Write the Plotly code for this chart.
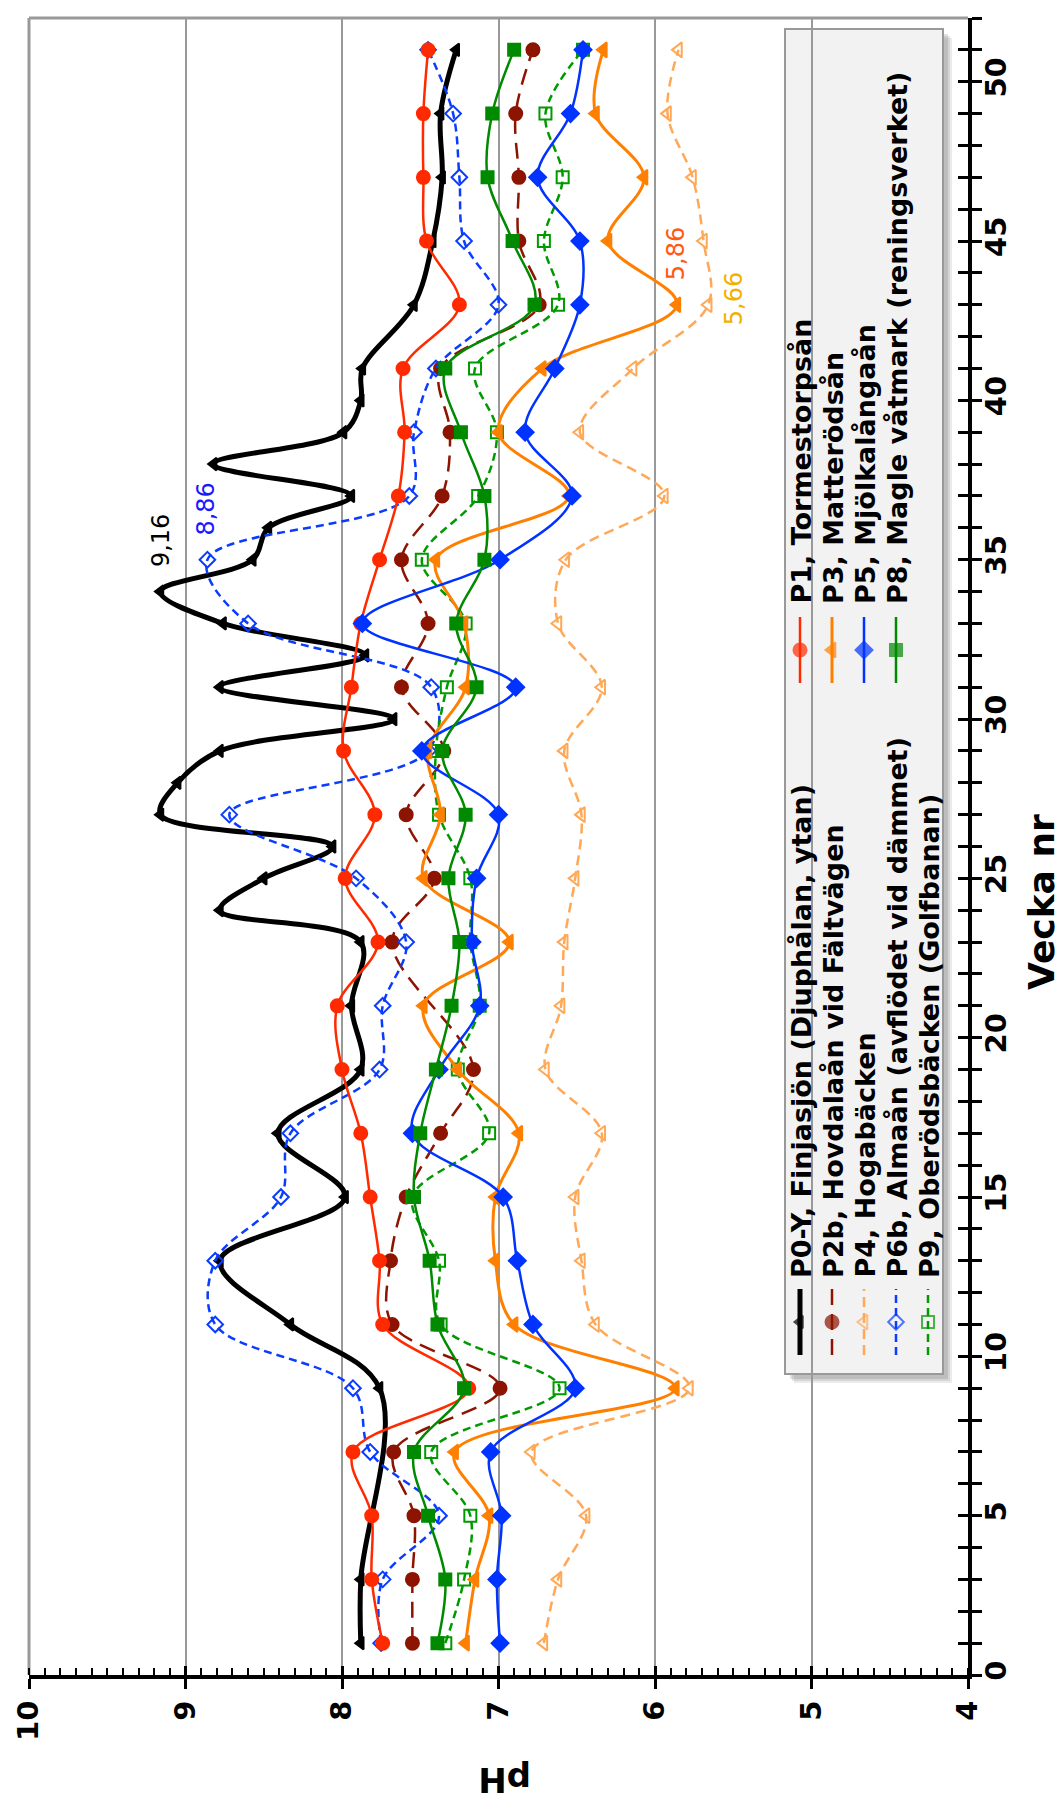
import plotly.graph_objects as go

# ---------------- data ----------------
weeks = [1, 3, 5, 7, 9, 11, 13, 15, 17, 19, 21, 23, 25, 27, 29, 31, 33, 35, 37, 39, 41, 43, 45, 47, 49, 51]

p0y_weeks = [1, 3, 9, 11, 13, 15, 17, 19, 21, 23, 24, 25, 26, 27, 28, 29, 30, 31, 32, 33, 34, 35, 36, 37, 38,
             39, 40, 41, 43, 45, 47, 49, 51]
p0y_ph = [7.88, 7.88, 7.76, 8.33, 8.78, 7.98, 8.41, 7.88, 7.94, 7.88, 8.78, 8.50, 8.06, 9.16, 9.05, 8.78, 7.67,
          8.78, 7.85, 8.76, 9.16, 8.57, 8.47, 7.94, 8.82, 7.99, 7.88, 7.87, 7.54, 7.42, 7.36, 7.37, 7.27]

p1_ph = [7.74, 7.81, 7.81, 7.93, 7.19, 7.74, 7.76, 7.82, 7.88, 8.00, 8.03, 7.77, 7.98, 7.79, 7.99, 7.94, 7.88,
         7.76, 7.64, 7.60, 7.61, 7.25, 7.46, 7.48, 7.48, 7.45]

p2b_weeks = [1, 3, 5, 7, 9, 11, 13, 15, 17, 19, 23, 25, 27, 29, 31, 33, 35, 37, 39, 41, 43, 45, 47, 49, 51]
p2b_ph = [7.55, 7.55, 7.54, 7.67, 6.99, 7.68, 7.69, 7.59, 7.37, 7.16, 7.68, 7.41, 7.59, 7.35, 7.62, 7.45, 7.62,
          7.36, 7.31, 7.37, 6.74, 6.87, 6.87, 6.89, 6.78]

p3_ph = [7.21, 7.15, 7.06, 7.28, 5.87, 6.90, 7.02, 7.02, 6.87, 7.26, 7.48, 6.93, 7.48, 7.37, 7.45, 7.21, 7.22,
         7.40, 6.55, 7.00, 6.72, 5.86, 6.30, 6.07, 6.38, 6.33]

p4_ph = [6.71, 6.62, 6.44, 6.79, 5.78, 6.38, 6.47, 6.51, 6.34, 6.70, 6.60, 6.58, 6.51, 6.47, 6.58, 6.34, 6.62,
         6.57, 5.94, 6.48, 6.14, 5.66, 5.69, 5.76, 5.92, 5.85]

p5_ph = [6.99, 7.01, 6.98, 7.05, 6.51, 6.78, 6.88, 6.97, 7.55, 7.38, 7.12, 7.17, 7.14, 7.00, 7.49, 6.89, 7.87,
         6.99, 6.53, 6.83, 6.64, 6.48, 6.48, 6.75, 6.54, 6.46]

p6b_ph = [7.75, 7.74, 7.38, 7.82, 7.93, 8.81, 8.81, 8.39, 8.33, 7.76, 7.74, 7.59, 7.91, 8.72, 7.45, 7.43, 8.60,
          8.86, 7.57, 7.54, 7.40, 7.00, 7.22, 7.25, 7.29, 7.45]

p8_ph = [7.39, 7.34, 7.45, 7.54, 7.22, 7.39, 7.44, 7.54, 7.50, 7.40, 7.30, 7.25, 7.32, 7.21, 7.36, 7.14, 7.27,
         7.09, 7.09, 7.24, 7.34, 6.77, 6.91, 7.07, 7.04, 6.90]

p9_ph = [7.34, 7.22, 7.18, 7.43, 6.61, 7.37, 7.38, 7.55, 7.06, 7.26, 7.12, 7.18, 7.18, 7.38, 7.40, 7.33, 7.21,
         7.49, 7.13, 7.01, 7.15, 6.62, 6.71, 6.59, 6.70, 6.46]

ph_ticks = [10, 9, 8, 7, 6, 5, 4]
week_ticks = list(range(0, 53))

labels = ["P0-Y, Finjasjön (Djuphålan, ytan)", "P2b, Hovdalaån vid Fältvägen", "P4, Hogabäcken",
          "P6b, Almaån (avflödet vid dämmet)", "P9, Oberödsbäcken (Golfbanan)",
          "P1, Tormestorpsån", "P3, Matterödsån", "P5, Mjölkalångaån", "P8, Magle våtmark (reningsverket)"]

peak_labels = [("9,16", 9.16, 35.6, "black"), ("8,86", 8.87, 36.6, "#1a1aff"),
               ("5,86", 5.87, 44.6, "#ff5a14"), ("5,66", 5.49, 43.2, "#f2b100")]

# ---------------- styles ----------------
FONT = "DejaVu Sans"
series = [
    # name, weeks, values, color, width, dash, symbol, msize
    (labels[0], p0y_weeks, p0y_ph, "black", 5, "solid", "triangle-left", 11),
    (labels[1], p2b_weeks, p2b_ph, "#8c1400", 2.5, "16px,9px", "circle", 13),
    (labels[2], weeks, p4_ph, "#ffa857", 2.5, "10px,6px", "triangle-left-open", 13),
    (labels[3], weeks, p6b_ph, "#0a3cff", 2.5, "8px,5px", "diamond-open", 12),
    (labels[4], weeks, p9_ph, "#009a00", 2.5, "8px,5px", "square-open", 12),
    (labels[5], weeks, p1_ph, "#ff2a00", 2.5, "solid", "circle", 13),
    (labels[6], weeks, p3_ph, "#ff8000", 3, "solid", "triangle-left", 13),
    (labels[7], weeks, p5_ph, "#0033ff", 2.5, "solid", "diamond", 13),
    (labels[8], weeks, p8_ph, "#008a00", 2.5, "solid", "square", 12),
]

W, H = 1063, 1814
L, R, T, B = 21, 103, 10, 147
PX0, PX1, PY0, PY1 = L, W - R, T, H - B


def paper(px, py):
    return (px - PX0) / (PX1 - PX0), (PY1 - py) / (PY1 - PY0)


fig = go.Figure()

for name, wk, vals, col, lw, dash, sym, ms in series:
    fig.add_trace(go.Scatter(
        x=vals, y=wk, mode="lines+markers", name=name, showlegend=False,
        line=dict(color=col, width=lw, dash=dash, shape="spline", smoothing=1.0),
        marker=dict(symbol=sym, size=ms, color=col, line=dict(color=col, width=2)),
    ))

# dummy traces so overlay axes render
fig.add_trace(go.Scatter(x=[None], y=[None], xaxis="x2", yaxis="y", showlegend=False, hoverinfo="skip"))
fig.add_trace(go.Scatter(x=[None], y=[None], xaxis="x", yaxis="y2", showlegend=False, hoverinfo="skip"))

# ---------------- manual rotated legend ----------------
col_x = [792, 824, 856, 888, 920]
groups = [(range(0, 5), 1314, 1272), (range(5, 9), 642, 598)]
for idx, ymark, ytext in groups:
    for j, si in enumerate(idx):
        name, wk, vals, col, lw, dash, sym, ms = series[si]
        cx = col_x[j]
        fig.add_trace(go.Scatter(
            x=[cx, cx, cx], y=[ymark + 33, ymark, ymark - 33], xaxis="x3", yaxis="y3",
            mode="lines+markers", showlegend=False, hoverinfo="skip",
            line=dict(color=col, width=lw, dash=dash),
            marker=dict(symbol=sym, size=[0, ms, 0], color=col, line=dict(color=col, width=2)),
        ))
        ax, ay = paper(cx + 1, ytext)
        fig.add_annotation(x=ax, y=ay, xref="paper", yref="paper", text=name, showarrow=False,
                           textangle=-90, xanchor="center", yanchor="bottom",
                           font=dict(family=FONT, size=27, color="black", weight="bold"))

# legend box + soft shadow
for off, alpha in [(9, 0.12), (7, 0.15), (5, 0.18)]:
    sx0, sy0 = paper(777 + off, 21 + off)
    sx1, sy1 = paper(935 + off, 1366 + off)
    fig.add_shape(type="rect", xref="paper", yref="paper", x0=sx0, y0=sy0, x1=sx1, y1=sy1,
                  fillcolor=f"rgba(90,90,90,{alpha})", line=dict(width=0), layer="between")
bx0, by0 = paper(777, 21)
bx1, by1 = paper(935, 1366)
fig.add_shape(type="rect", xref="paper", yref="paper", x0=bx0, y0=by0, x1=bx1, y1=by1,
              fillcolor="#f2f2f2", line=dict(color="#999999", width=2), layer="between")

# plot border (top and left, gray)
fig.add_shape(type="line", xref="paper", yref="paper", x0=0, x1=1, y0=1, y1=1,
              line=dict(color="#999999", width=3), layer="between")
fig.add_shape(type="line", xref="paper", yref="paper", x0=0, x1=0, y0=0, y1=1,
              line=dict(color="#999999", width=3), layer="between")

# peak value labels
for txt, xv, yv, col in peak_labels:
    fig.add_annotation(x=xv, y=yv, text=txt, showarrow=False, textangle=-90,
                       xanchor="center", yanchor="middle",
                       font=dict(family=FONT, size=24, color=col))

# axis titles
vx, vy = paper(1033, 894)
fig.add_annotation(x=vx, y=vy, xref="paper", yref="paper", text="Vecka nr", showarrow=False,
                   textangle=-90, xanchor="center", yanchor="middle",
                   font=dict(family=FONT, size=36, color="black", weight="bold"))
hx, hy = paper(497, 1772)
fig.add_annotation(x=hx, y=hy, xref="paper", yref="paper", text="pH", showarrow=False,
                   textangle=180, xanchor="center", yanchor="middle",
                   font=dict(family=FONT, size=34, color="black", weight="bold"))

tickfont = dict(family=FONT, size=29, color="black", weight="bold")

fig.update_layout(
    width=W, height=H, margin=dict(l=L, r=R, t=T, b=B, autoexpand=False),
    paper_bgcolor="white", plot_bgcolor="white", showlegend=False,
    xaxis=dict(range=[10, 4], tickvals=ph_ticks, ticks="outside", ticklen=10, tickwidth=3, tickcolor="black",
               showline=True, linecolor="black", linewidth=4, showgrid=True, gridcolor="#999999", gridwidth=2,
               zeroline=False, tickangle=-90, tickfont=tickfont,
               minor=dict(ticks="inside", ticklen=7, tickwidth=2, tickcolor="black", dtick=0.1, showgrid=False)),
    xaxis2=dict(range=[10, 4], overlaying="x", anchor="y", side="bottom", tickvals=ph_ticks, ticks="inside",
                ticklen=9, tickwidth=3, tickcolor="black", showticklabels=False, showgrid=False,
                showline=False, zeroline=False),
    yaxis=dict(range=[0, 52], side="right", tickmode="array", tickvals=week_ticks,
               ticktext=[str(w) if w % 5 == 0 else "" for w in week_ticks],
               ticks="outside", ticklen=10, tickwidth=3, tickcolor="black", showline=True, linecolor="black",
               linewidth=4, showgrid=False, zeroline=False, tickangle=-90, tickfont=tickfont,
               ticklabelstandoff=-11),
    yaxis2=dict(range=[0, 52], overlaying="y", anchor="x", side="right", tickmode="array", tickvals=week_ticks,
                ticks="inside", ticklen=10, tickwidth=3, tickcolor="black", showticklabels=False,
                showgrid=False, showline=False, zeroline=False),
    xaxis3=dict(range=[PX0, PX1], overlaying="x", anchor="y3", visible=False),
    yaxis3=dict(range=[PY1, PY0], overlaying="y", anchor="x3", visible=False),
)

fig.write_html("out.html")
